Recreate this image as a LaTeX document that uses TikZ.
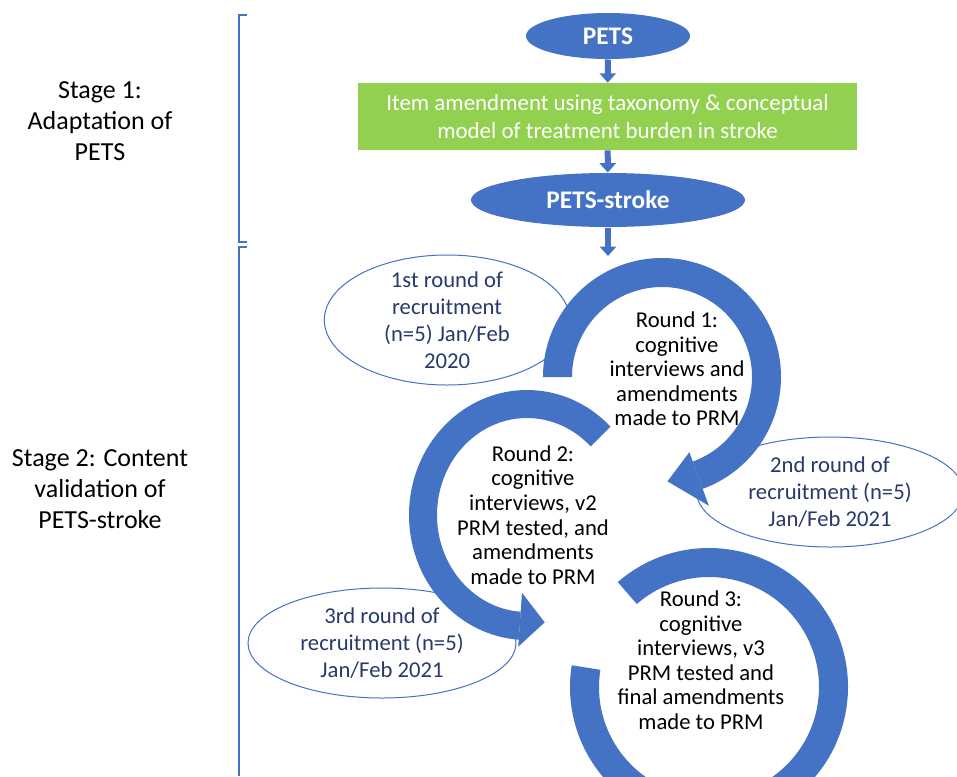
\documentclass[tikz,border=0pt]{standalone}
\usepackage{fontspec}
\setmainfont{Carlito}
\usetikzlibrary{shapes.geometric,arrows.meta}
\definecolor{officeblue}{RGB}{68,114,196}
\definecolor{officegreen}{RGB}{146,208,80}
\definecolor{recruitnavy}{RGB}{40,58,105}
\tikzset{every picture/.style={line width=0.75pt}}

\begin{document}
\begin{tikzpicture}[x=0.75pt,y=0.75pt,yscale=-1,xscale=1,
	stepellipse/.style={ellipse,fill=officeblue,text=white,inner sep=0pt,font=\fontsize{19}{22}\selectfont\bfseries},
	recruitshape/.style={ellipse,draw=officeblue,fill=white,inner sep=0pt},
	recruittext/.style={align=center,text=recruitnavy,font=\fontsize{17}{20.3}\selectfont},
	roundtext/.style={align=center,font=\fontsize{17}{18.4}\selectfont},
	stagetext/.style={align=center,font=\fontsize{19.5}{23}\selectfont},
	flowarrow/.style={officeblue,line width=4.5pt,-{Triangle[width=12pt,length=7pt]}},
	bracket/.style={officeblue,line width=1.5pt},
	band/.style={fill=officeblue}]
	\useasboundingbox (0,0) rectangle (957,776);

	%Brackets
	\draw [bracket] (247,15) -- (239,15) -- (239,242) -- (247,242) ;
	\draw [bracket] (247,247) -- (239,247) -- (239,776) ;

	% Stage labels
	\node [stagetext] (stageone) at (100,121) {Stage 1:\\Adaptation of\\PETS};
	\node [stagetext] (stagetwo) at (100,489) {Stage 2: Content\\validation of\\PETS-stroke};

	% Adaptation steps
	\node [stepellipse,minimum width=123pt,minimum height=34.5pt] (pets) at (608,36) {PETS};
	\node [fill=officegreen,text=white,minimum width=374pt,minimum height=50pt,inner sep=0pt,align=center,font=\fontsize{17.2}{21}\selectfont] (amend) at (607.5,116.5) {Item amendment using taxonomy \& conceptual\\model of treatment burden in stroke};
	\node [stepellipse,minimum width=205.5pt,minimum height=40.5pt] (petsstroke) at (608,200) {PETS-stroke};
	\coordinate (roundentry) at (608,256);

	\draw [flowarrow] (pets) -- (amend);
	\draw [flowarrow] (amend) -- (petsstroke);
	\draw [flowarrow] (petsstroke) -- (roundentry);

	% Recruitment ellipses
	\node [recruitshape,minimum width=184pt,minimum height=97.5pt] (recruitone) at (447,320) {};
	\node [recruitshape,minimum width=200pt,minimum height=82.5pt] (recruittwo) at (830,492) {};
	\node [recruitshape,minimum width=201pt,minimum height=82.5pt] (recruitthree) at (382,643) {};

	%Shape: Circular Arrow (round 1)
	\begin{scope}[shift={(662,377)}]
	\fill [band] (180:119) arc [start angle=180,end angle=430,radius=119] -- (430:90) arc [start angle=430,end angle=180,radius=90] -- cycle ;
	\fill [band] (430:80) -- (430:137) -- (447:104.5) -- cycle ;
	\end{scope}
	%Shape: Circular Arrow (round 2)
	\begin{scope}[shift={(527,515)}]
	\fill [band] (-45:118 and 125) arc [start angle=-45,end angle=-266,x radius=118,y radius=125] -- (-266:90 and 97) arc [start angle=-266,end angle=-45,x radius=90,y radius=97] -- cycle ;
	\fill [band] (-266:72 and 78) -- (-266:126 and 132) -- (-280:102 and 109) -- cycle ;
	\end{scope}
	%Shape: Circular Arrow (round 3)
	\begin{scope}[shift={(709,687)}]
	\fill [band] (-131:139) arc [start angle=-131,end angle=189,radius=139] -- (189:110) arc [start angle=189,end angle=-131,radius=110] -- cycle ;
	\end{scope}

	% Text Node
	\node [recruittext] (recruitonetext) at (recruitone) {1st round of\\recruitment\\(n=5) Jan/Feb\\2020};
	\node [recruittext] (recruittwotext) at (recruittwo) {2nd round of\\recruitment (n=5)\\Jan/Feb 2021};
	\node [recruittext] (recruitthreetext) at (recruitthree) {3rd round of\\recruitment (n=5)\\Jan/Feb 2021};
	\node [roundtext] (roundone) at (677,369) {Round 1:\\cognitive\\interviews and\\amendments\\made to PRM};
	\node [roundtext] (roundtwo) at (533,515) {Round 2:\\cognitive\\interviews, v2\\PRM tested, and\\amendments\\made to PRM};
	\node [roundtext] (roundthree) at (701,660) {Round 3:\\cognitive\\interviews, v3\\PRM tested and\\final amendments\\made to PRM};

\end{tikzpicture}
\end{document}
